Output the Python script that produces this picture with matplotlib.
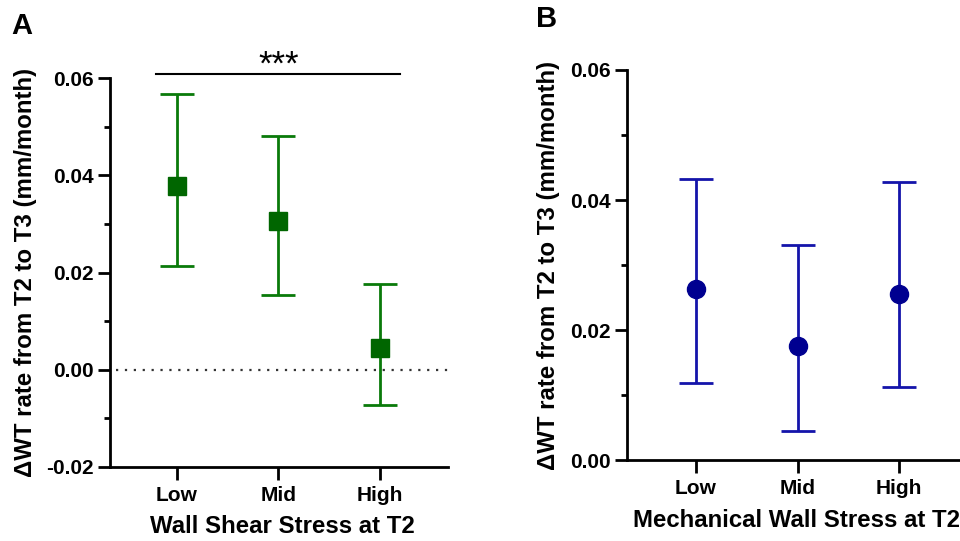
import matplotlib
matplotlib.use('Agg')
import matplotlib.pyplot as plt
from matplotlib.ticker import MultipleLocator, FormatStrFormatter

plt.rcParams['font.family'] = ['Liberation Sans', 'DejaVu Sans']
plt.rcParams['font.weight'] = 'bold'
plt.rcParams['axes.labelweight'] = 'bold'

groups = ['Low', 'Mid', 'High']

# panel A: wall shear stress
wss_mean = [0.0377, 0.0305, 0.0044]
wss_upper = [0.0568, 0.0480, 0.0177]
wss_lower = [0.0214, 0.0154, -0.0072]

# panel B: mechanical wall stress
mws_mean = [0.0263, 0.0176, 0.0256]
mws_upper = [0.0433, 0.0330, 0.0427]
mws_lower = [0.0118, 0.0045, 0.0112]

YLABEL = '\u0394WT rate from T2 to T3 (mm/month)'

W, H = 960, 541
fig = plt.figure(figsize=(W / 100, H / 100), dpi=100)


def px_axes(left, right, top, bottom):
    return fig.add_axes([left / W, 1 - bottom / H, (right - left) / W, (bottom - top) / H])


def style_axes(ax):
    for s in ('top', 'right'):
        ax.spines[s].set_visible(False)
    for s in ('left', 'bottom'):
        ax.spines[s].set_linewidth(2.0)
    ax.yaxis.set_major_locator(MultipleLocator(0.02))
    ax.yaxis.set_minor_locator(MultipleLocator(0.01))
    ax.yaxis.set_major_formatter(FormatStrFormatter('%.2f'))
    ax.tick_params(axis='y', which='major', length=9, width=2.0, labelsize=15, pad=3)
    ax.tick_params(axis='y', which='minor', length=4, width=2.0)
    ax.tick_params(axis='x', length=9, width=2.0, labelsize=15, pad=5)
    ax.set_xticks(range(len(groups)))
    ax.set_xticklabels(groups)


def set_labels(ax, xlabel, xpos, ypos):
    ax.set_xlabel(xlabel, fontsize=17.3, fontweight='bold')
    ax.xaxis.set_label_coords(*xpos)
    ax.xaxis.label.set_va('center')
    ax.set_ylabel(YLABEL, fontsize=17.3, fontweight='bold')
    ax.yaxis.set_label_coords(*ypos)
    ax.yaxis.label.set_va('center')


def draw_panel(ax, mean, lo, hi, color, mcolor, marker):
    x = list(range(len(groups)))
    err = [[m - l for m, l in zip(mean, lo)], [h - m for m, h in zip(mean, hi)]]
    ax.errorbar(x, mean, yerr=err, fmt=marker, color=color, ecolor=color,
                markerfacecolor=mcolor, markeredgecolor=mcolor, markersize=13,
                elinewidth=2.0, capsize=12, capthick=2.0, zorder=3, clip_on=False)


# ---- A ----
axA = px_axes(110, 448, 78, 467)
style_axes(axA)
axA.set_xlim(-0.66, 2.67)
axA.set_ylim(-0.02, 0.06)
axA.plot([-0.6, 2.67], [0, 0], linestyle=(0, (1, 3)), color='#333333', lw=1.6, zorder=1)
draw_panel(axA, wss_mean, wss_lower, wss_upper, '#0a7a0a', '#006600', 's')
axA.plot([-0.21, 2.2], [0.0609, 0.0609], color='black', lw=1.5, clip_on=False)
axA.text(1.0, 0.0606, '***', ha='center', va='baseline', fontsize=25, fontweight='normal')
set_labels(axA, 'Wall Shear Stress at T2', (0.509, -0.154), (-0.251, 0.5))

# ---- B ----
axB = px_axes(627, 960, 70, 460)
style_axes(axB)
axB.set_xlim(-0.68, 2.6)
axB.set_ylim(0, 0.06)
draw_panel(axB, mws_mean, mws_lower, mws_upper, '#1414aa', '#000090', 'o')
set_labels(axB, 'Mechanical Wall Stress at T2', (0.51, -0.154), (-0.237, 0.5))

fig.text(22 / W, 1 - 26 / H, 'A', fontsize=21, fontweight='bold', ha='center', va='center')
fig.text(547 / W, 1 - 19 / H, 'B', fontsize=21, fontweight='bold', ha='center', va='center')

fig.savefig('out.png', dpi=100, facecolor='white')
